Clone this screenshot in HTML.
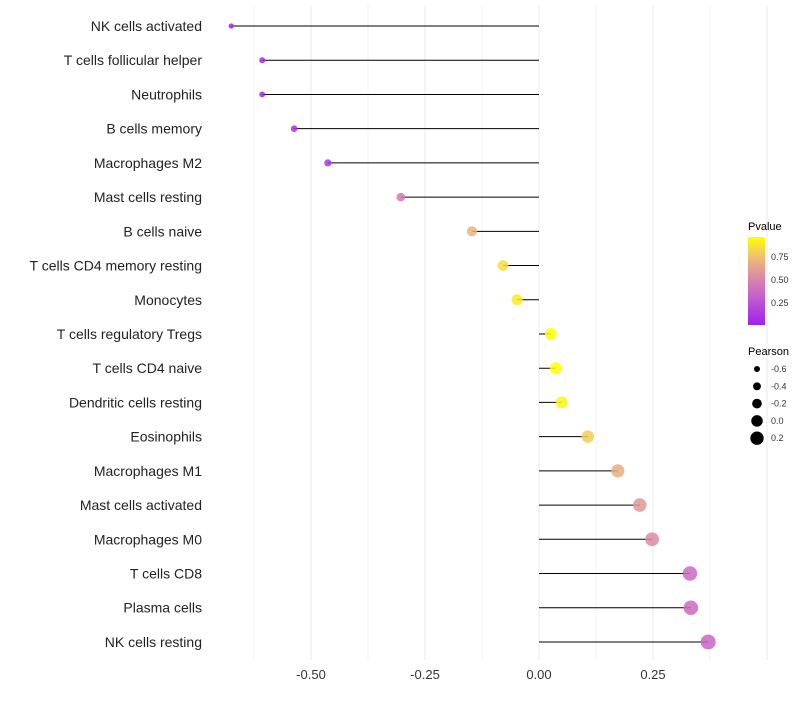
<!DOCTYPE html>
<html><head><meta charset="utf-8"><style>
body{margin:0;background:#fff;font-family:"Liberation Sans",sans-serif}
</style></head><body>
<svg id="chart" width="800" height="700" font-family="Liberation Sans, sans-serif">
<defs><linearGradient id="pg" x1="0" y1="1" x2="0" y2="0">
<stop offset="0" stop-color="#a020f0"/><stop offset="0.35" stop-color="#c764c8"/><stop offset="0.57" stop-color="#df8fa0"/><stop offset="0.78" stop-color="#f0c070"/><stop offset="1" stop-color="#ffff00"/></linearGradient></defs>
<g id="grid"></g><g id="marks"></g><g id="labels"></g>
<g>
<text x="748" y="230" font-size="11">Pvalue</text>
<rect x="748" y="237" width="17" height="88" fill="url(#pg)"/>
<text x="771" y="260" font-size="9" fill="#333">0.75</text>
<text x="771" y="283" font-size="9" fill="#333">0.50</text>
<text x="771" y="306" font-size="9" fill="#333">0.25</text>
</g>
<g id="sizeleg"><text x="748" y="355" font-size="11">Pearson</text></g>
</svg>
<script>
const categories=["NK cells activated","T cells follicular helper","Neutrophils","B cells memory","Macrophages M2","Mast cells resting","B cells naive","T cells CD4 memory resting","Monocytes","T cells regulatory  Tregs","T cells CD4 naive","Dendritic cells resting","Eosinophils","Macrophages M1","Mast cells activated","Macrophages M0","T cells CD8","Plasma cells","NK cells resting"];
const pearson=[-0.675,-0.607,-0.607,-0.537,-0.463,-0.303,-0.147,-0.079,-0.048,0.026,0.037,0.050,0.107,0.173,0.221,0.248,0.331,0.333,0.371];
const pvalue=[0.03,0.03,0.03,0.06,0.12,0.45,0.72,0.86,0.90,0.96,0.96,0.93,0.82,0.70,0.60,0.55,0.38,0.38,0.36];
const xTicks=[-0.5,-0.25,0,0.25];
const xTickLabels=["-0.50","-0.25","0.00","0.25"];
const sizeLegend=[-0.6,-0.4,-0.2,0.0,0.2];
const ns="http://www.w3.org/2000/svg";
const X=v=>539+v*456;
const Y=i=>26+i*34.22;
const R=v=>3+(v+0.6)*4.6;
function col(p){const st=[[0,[160,32,240]],[0.35,[199,100,200]],[0.57,[223,143,160]],[0.78,[240,192,112]],[0.96,[255,255,0]]];
 if(p>=0.96)return"rgb(255,255,0)";for(let k=0;k<st.length-1;k++){if(p<=st[k+1][0]){const t=(p-st[k][0])/(st[k+1][0]-st[k][0]);const c=st[k][1].map((a,j)=>Math.round(a+(st[k+1][1][j]-a)*t));return`rgb(${c})`}}}
function el(t,a,parent){const e=document.createElementNS(ns,t);for(const k in a)e.setAttribute(k,a[k]);parent.appendChild(e);return e}
const grid=document.getElementById('grid'),marks=document.getElementById('marks'),labels=document.getElementById('labels');
for(let v=-0.625;v<=0.5;v+=0.125){const g=el('line',{x1:X(v),x2:X(v),y1:5,y2:660,stroke:'#ebebeb','stroke-width':Math.abs(v*8-Math.round(v*8))<1e-6&&Math.round(v*8)%2===0?1:0.6},grid);

}
xTicks.forEach((v,i)=>{const t=el('text',{x:X(v),y:679,'font-size':13,'text-anchor':'middle',fill:'#333'},labels);t.textContent=xTickLabels[i];

});
categories.forEach((c,i)=>{const y=Y(i);
const t=el('text',{x:202,y:y+5,'font-size':14,'text-anchor':'end',fill:'#222'},labels);t.textContent=c;


const l=el('line',{x1:X(0),x2:X(pearson[i]),y1:y,y2:y,stroke:'#000','stroke-width':1},marks);


const d=el('circle',{cx:X(pearson[i]),cy:y,r:R(pearson[i]),fill:col(pvalue[i]),'fill-opacity':0.85},marks);

});
const sl=document.getElementById('sizeleg');
sizeLegend.forEach((v,i)=>{const y=369+i*17.3;
const d=el('circle',{cx:757,cy:y,r:R(v),fill:'#000'},sl);


const t=el('text',{x:771,y:y+3,'font-size':9,fill:'#333'},sl);t.textContent=v.toFixed(1);

});
</script>
</body></html>
